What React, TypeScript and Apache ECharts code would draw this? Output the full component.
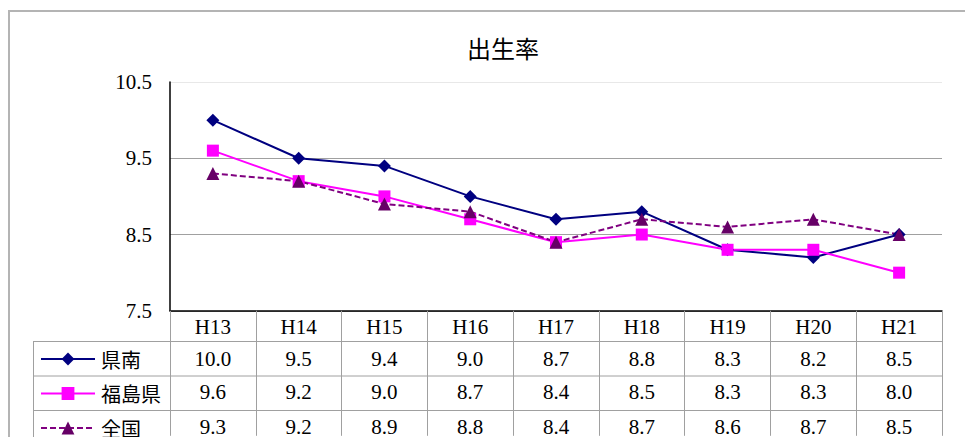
import React, { useEffect, useRef } from "react";
import * as echarts from "echarts";

const categories = ["H13", "H14", "H15", "H16", "H17", "H18", "H19", "H20", "H21"];
const seriesNames = ["県南", "福島県", "全国"];
const kennan = [10.0, 9.5, 9.4, 9.0, 8.7, 8.8, 8.3, 8.2, 8.5];
const fukushima = [9.6, 9.2, 9.0, 8.7, 8.4, 8.5, 8.3, 8.3, 8.0];
const zenkoku = [9.3, 9.2, 8.9, 8.8, 8.4, 8.7, 8.6, 8.7, 8.5];
const yMin = 7.5;
const yMax = 10.5;
const yStep = 0.5;
const yLabelTicks = [7.5, 8.5, 9.5, 10.5];

const rows = [kennan, fukushima, zenkoku];
const SERIF = "'Liberation Serif', 'DejaVu Serif', serif";
const CJK = "'Noto Sans CJK JP', 'Noto Sans', sans-serif";

export default function App() {
  const ref = useRef<HTMLDivElement>(null);
  useEffect(() => {
    if (!ref.current) return;
    const chart = echarts.init(ref.current, undefined, { renderer: "svg" });
    const rowOffsets = [31.7, 65.5, 99.7];
    const rowCenters = [359, 393.5, 428];
    const tableAxes = rows.map((vals, r) => ({
      type: "category",
      data: categories,
      gridIndex: 0,
      position: "bottom",
      offset: rowOffsets[r],
      axisLine: { show: false },
      axisTick: { show: false },
      splitLine: { show: false },
      axisLabel: {
        interval: 0,
        margin: 6,
        fontFamily: SERIF,
        fontSize: 21,
        lineHeight: 20,
        color: "#000",
        formatter: (_v: string, i: number) => vals[i].toFixed(1),
      },
    }));
    const grayLine = "#a0a0a0";
    const hLine = (y: number) => ({
      type: "line",
      shape: { x1: 33, y1: y, x2: 942, y2: y },
      style: { stroke: grayLine, lineWidth: 1 },
      silent: true,
    });
    const legends = seriesNames.map((name, i) => ({
      orient: "vertical",
      left: 40,
      top: rowCenters[i] - 10,
      padding: 0,
      itemWidth: 54,
      itemHeight: 16,
      data: [name],
      textStyle: { fontFamily: CJK, fontSize: 20, color: "#000", padding: [0, 0, 0, 1] },
      selectedMode: false,
    }));
    chart.setOption({
      animation: false,
      title: {
        text: "出生率",
        left: 462,
        top: 30,
        textStyle: { fontFamily: CJK, fontSize: 24, fontWeight: "normal", color: "#000" },
      },
      grid: { left: 170, right: 23, top: 82, bottom: 125, containLabel: false },
      legend: legends,
      xAxis: [
        {
          type: "category",
          data: categories,
          boundaryGap: true,
          axisLine: { show: true, lineStyle: { color: "#000", width: 1.5 } },
          axisTick: {
            show: true,
            interval: 0,
            alignWithLabel: false,
            inside: false,
            length: 125,
            lineStyle: { color: grayLine, width: 1 },
          },
          axisLabel: {
            interval: 0,
            margin: 6,
            fontFamily: SERIF,
            fontSize: 21,
            lineHeight: 20,
            color: "#000",
          },
          splitLine: { show: false },
        },
        ...tableAxes,
      ],
      yAxis: {
        type: "value",
        min: yMin,
        max: yMax,
        interval: yStep,
        axisLine: { show: true, lineStyle: { color: "#000", width: 1.5 } },
        axisTick: { show: false },
        axisLabel: {
          margin: 18,
          fontFamily: SERIF,
          fontSize: 21,
          color: "#000",
          formatter: (v: number) =>
            yLabelTicks.some((t) => Math.abs(t - v) < 1e-6) ? v.toFixed(1) : "",
        },
        splitLine: {
          show: true,
          lineStyle: {
            color: ["#a0a0a0", "transparent", "#a0a0a0", "transparent", "#a0a0a0", "transparent", "#e8e8e8"],
            width: 1,
          },
        },
      },
      graphic: [
        {
          type: "rect",
          shape: { x: 9, y: 11, width: 1000, height: 1000 },
          style: { fill: "none", stroke: "#b4b4b4", lineWidth: 2 },
          silent: true,
          z: -10,
        },
        hLine(341.5),
        hLine(376),
        hLine(410.5),
        {
          type: "line",
          shape: { x1: 33.5, y1: 341.5, x2: 33.5, y2: 440 },
          style: { stroke: grayLine, lineWidth: 1 },
          silent: true,
        },
      ],
      series: [
        {
          name: seriesNames[0],
          type: "line",
          data: kennan,
          symbol: "diamond",
          symbolSize: 13,
          itemStyle: { color: "#000080" },
          lineStyle: { color: "#000080", width: 2 },
        },
        {
          name: seriesNames[1],
          type: "line",
          data: fukushima,
          symbol: "rect",
          symbolSize: 12,
          itemStyle: { color: "#ff00ff" },
          lineStyle: { color: "#ff00ff", width: 2 },
        },
        {
          name: seriesNames[2],
          type: "line",
          data: zenkoku,
          symbol: "triangle",
          symbolSize: 13,
          itemStyle: { color: "#660066" },
          lineStyle: { color: "#800080", width: 2, type: [6, 3] },
        },
      ],
    });
    return () => chart.dispose();
  }, []);
  return (
    <div
      ref={ref}
      style={{ position: "fixed", left: 0, top: 0, width: 965, height: 437, background: "#fff" }}
    />
  );
}
